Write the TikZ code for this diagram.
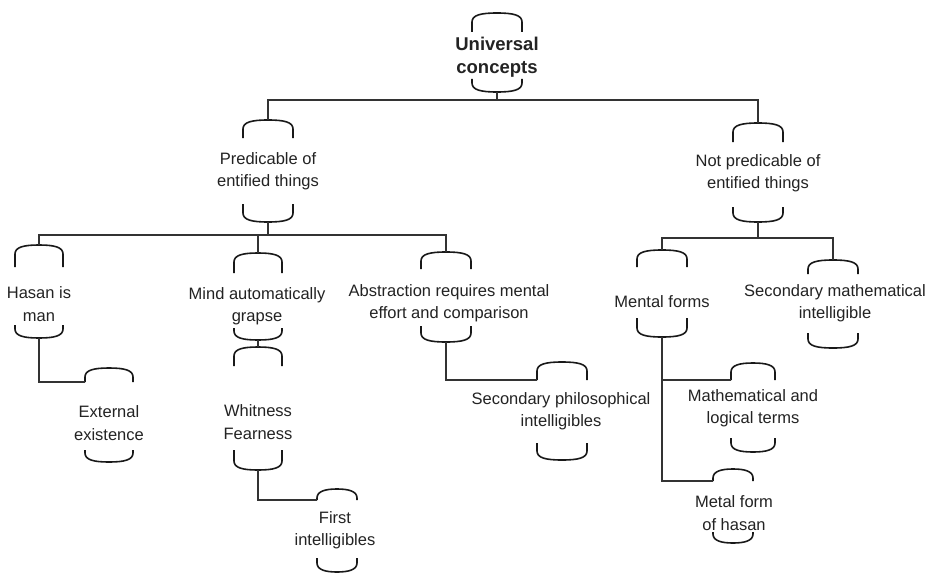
\documentclass[tikz,border=0pt]{standalone}
\usepackage{fontspec}
\setmainfont{Liberation Sans}
\definecolor{txt}{HTML}{232323}
\definecolor{lin}{HTML}{333333}
\newcommand\cpt[7]{% name, cx, halfwidth, t1, t2, b1, b2
  \draw[brk] (#2-#3,#5) -- (#2-#3,#4+9) .. controls (#2-#3,#4+2) and (#2-#3+9,#4) .. (#2,#4)
     .. controls (#2+#3-9,#4) and (#2+#3,#4+2) .. (#2+#3,#4+9) -- (#2+#3,#5);
  \draw[brk] (#2-#3,#6) -- (#2-#3,#7-9) .. controls (#2-#3,#7-2) and (#2-#3+9,#7) .. (#2,#7)
     .. controls (#2+#3-9,#7) and (#2+#3,#7-2) .. (#2+#3,#7-9) -- (#2+#3,#6);
  \coordinate (#1t) at (#2,#4);
  \coordinate (#1b) at (#2,#7);
  \coordinate (#1l) at (#2-#3,#5);
}
\begin{document}
\begin{tikzpicture}[x=1pt,y=-1pt,
  brk/.style={draw=black!90,line width=1.6pt},
  conn/.style={draw=lin,line width=2pt},
  lbl/.style={text=txt,align=center,inner sep=0pt,font=\fontsize{16.5}{22.5}\selectfont},
  bold/.style={lbl,font=\fontsize{18.5}{23}\selectfont\bfseries}]
\useasboundingbox[fill=white] (0,0) rectangle (933,575);
% brackets
\cpt{U}{497}{25}{13}{32}{79}{92}
\cpt{P}{268}{25}{120}{138}{204}{222}
\cpt{NP}{758}{25}{123}{142}{207}{222}
\cpt{H}{39}{24}{245}{267}{325}{338}
\cpt{E}{109}{24}{368}{382}{450}{462}
\cpt{M}{258}{24}{253}{273}{328}{340}
\cpt{W}{258}{24}{347}{366}{450}{470}
\cpt{F}{337}{20}{489}{500}{558}{572}
\cpt{A}{446}{25}{252}{269}{326}{342}
\cpt{SP}{562}{25}{362}{380}{443}{460}
\cpt{MF}{662}{25}{250}{267}{318}{337}
\cpt{SM}{833}{25}{260}{274}{333}{348}
\cpt{MT}{753}{22}{363}{380}{438}{452}
\cpt{MH}{733}{20}{469}{481}{532}{543}
% labels
\node[bold] (u) at (497,57) {Universal\\concepts};
\node[lbl] (p) at (268,171) {Predicable of\\entified things};
\node[lbl] (np) at (758,173) {Not predicable of\\entified things};
\node[lbl] (h) at (39,304) {Hasan is\\man};
\node[lbl] (e) at (109,423) {External\\existence};
\node[lbl] (m) at (257,306) {Mind automatically\\grapse};
\node[lbl] (w) at (258,422) {Whitness\\Fearness};
\node[lbl] (f) at (335,530) {First\\intelligibles};
\node[lbl] (a) at (449,303) {Abstraction requires mental\\effort and comparison};
\node[lbl] (sp) at (561,411) {Secondary philosophical\\intelligibles};
\node[lbl] (mf) at (662,302) {Mental forms};
\node[lbl] (sm) at (835,303) {Secondary mathematical\\intelligible};
\node[lbl] (mt) at (753,408) {Mathematical and\\logical terms};
\node[lbl] (mh) at (734,513) {Metal form\\of hasan};
% junctions
\coordinate (j1) at (497,100);
\coordinate (j2) at (268,235);
\coordinate (j3) at (758,238);
% connectors
\draw[conn] (Ub) -- (j1);
\draw[conn] (Pt) |- (j1) -| (NPt);
\draw[conn] (Pb) -- (j2);
\draw[conn] (Ht) |- (j2) -| (At);
\draw[conn] (Mt) |- (j2);
\draw[conn] (NPb) -- (j3);
\draw[conn] (MFt) |- (j3) -| (SMt);
\draw[conn] (Hb) |- (El);
\draw[conn] (Mb) -- (Wt);
\draw[conn] (Wb) |- (Fl);
\draw[conn] (Ab) |- (SPl);
\draw[conn] (MFb) |- (MTl);
\draw[conn] (MFb) |- (MHl);
\end{tikzpicture}
\end{document}
